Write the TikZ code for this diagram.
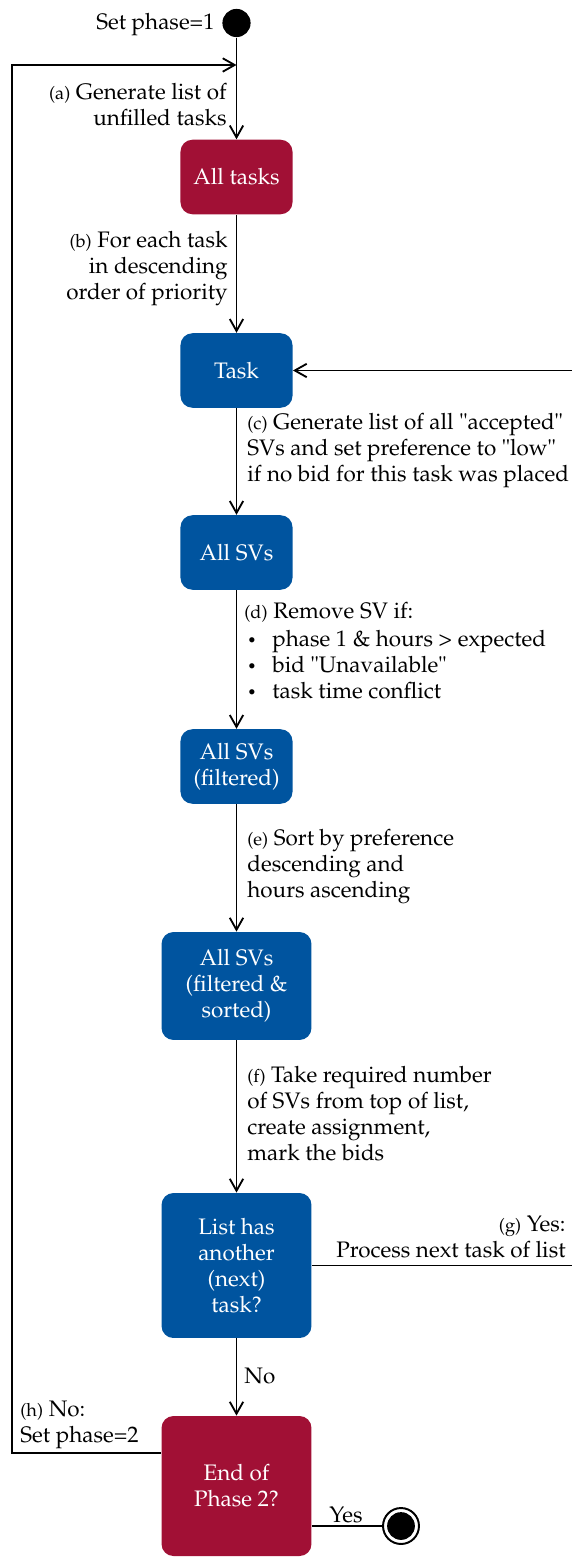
\documentclass[tikz,border=0pt]{standalone}
\usepackage[T1]{fontenc}
\usepackage{mathpazo}
\usepackage{textcomp}
\usetikzlibrary{arrows.meta,calc}
\definecolor{rwthblue}{RGB}{0,84,159}
\definecolor{rwthred}{RGB}{161,16,53}
\tikzset{
  box/.style={rectangle, rounded corners=5.5pt, text=white, align=center,
    inner sep=0pt, minimum width=51.7pt, minimum height=34.4pt},
  bluebox/.style={box, fill=rwthblue},
  redbox/.style={box, fill=rwthred},
  flow/.style={line width=0.85pt},
  arr/.style={flow, -{Straight Barb[length=5.5pt,width=6.2pt]}},
  lbl/.style={inner sep=0pt, align=left},
  rlbl/.style={inner sep=0pt, align=right, anchor=east},
  llbl/.style={inner sep=0pt, align=left, anchor=west}
}
\newcommand\steptag[1]{{\fontsize{8.4}{12}\selectfont(#1)}}
\newcommand\bulletitem{\makebox[11.5pt][l]{\raisebox{0.6pt}{\fontsize{7}{12}\selectfont\textbullet}}}
\begin{document}
\begin{tikzpicture}[x=0.4615pt,y=-0.4615pt,font=\fontsize{10.35}{12}\selectfont]
\useasboundingbox (0,0) rectangle (572,1558);

% states
\node[circle, fill=black, inner sep=0pt, minimum size=13pt] (start) at (236.5,23) {};
\node[redbox] (alltasks) at (236.5,177) {All tasks};
\node[bluebox] (task) at (236.5,370.5) {Task};
\node[bluebox] (allsvs) at (236.5,552.5) {All SVs};
\node[bluebox] (filtered) at (236.5,766.5) {All SVs\\(filtered)};
\node[bluebox, minimum width=69.2pt, minimum height=49.8pt] (sorted) at (236.5,986) {All SVs\\(filtered \&\\sorted)};
\node[bluebox, minimum width=69.2pt, minimum height=66.9pt] (list) at (236.5,1265.5) {List has\\another\\(next)\\task?};
\node[redbox, minimum width=69.2pt, minimum height=64.6pt] (end) at (236.5,1486) {End of\\Phase 2?};
\node[circle, draw, line width=0.9pt, inner sep=0pt, minimum size=16.6pt] (final) at (401,1526) {};
\fill (final.center) circle (6.4pt);

% helper points for the two loops
\coordinate (ltop) at (12,65);
\coordinate (lbot) at (12,1453);
\coordinate (rside) at (600,0);

% main flow
\draw[arr] (start) -- (alltasks);
\draw[arr] (alltasks) -- (task);
\draw[arr] (task) -- (allsvs);
\draw[arr] (allsvs) -- (filtered);
\draw[arr] (filtered) -- (sorted);
\draw[arr] (sorted) -- (list);
\draw[arr] (list) -- (end);
\draw[flow] (end.east |- final) -- (final);

% next task of the list
\draw[arr] (list.east) -- (list.east -| rside) -- (task.east -| rside) -- (task.east);
% next phase
\draw[arr] (end.west |- lbot) -- (lbot) -- (ltop) -- (ltop -| start);

% labels
\node[rlbl] (lstart) at (215,25) {Set phase=1};
\node[rlbl] (la) at (227,104.5) {\steptag{a} Generate list of\\unfilled tasks};
\node[rlbl] (lb) at (228,269) {\steptag{b} For each task\\in descending\\order of priority};
\node[llbl] (lc) at (247,451) {\steptag{c} Generate list of all "accepted"\\SVs and set preference to "low"\\if no bid for this task was placed};
\node[llbl] (ld) at (244,612) {\steptag{d} Remove SV if:};
\node[llbl] (ldl) at (247,664.5) {\bulletitem phase 1 \& hours > expected\\\bulletitem bid "Unavailable"\\\bulletitem task time conflict};
\node[llbl] (le) at (247,866.5) {\steptag{e} Sort by preference\\descending and\\hours ascending};
\node[llbl] (lf) at (247,1113.5) {\steptag{f} Take required number\\of SVs from top of list,\\create assignment,\\mark the bids};
\node[rlbl] (lg) at (566,1237) {\steptag{g} Yes:\\Process next task of list};
\node[llbl] (lno) at (244,1376) {No};
\node[llbl] (lh) at (20,1425) {\steptag{h} No:\\Set phase=2};
\node[lbl] (lyes) at (346,1515) {Yes};
\end{tikzpicture}
\end{document}
